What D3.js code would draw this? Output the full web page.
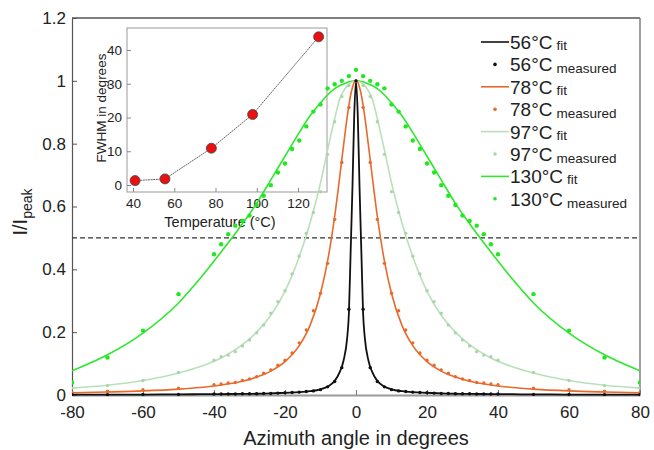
<!DOCTYPE html>
<html><head><meta charset="utf-8">
<script src="https://cdn.jsdelivr.net/npm/d3@7"></script>
<style>body{margin:0;background:#fff}text{font-family:"Liberation Sans",Arial,sans-serif;fill:#222}</style>
</head><body><svg id="c" width="654" height="450"></svg>
<script>
// ---- data ----
const temps = ["56°C","78°C","97°C","130°C"];
const colors = ["#111111","#e8692a","#b9e0b9","#2ee82e"];
const dotColors = ["#111111","#e8692a","#a9d6a9","#22e622"];
const fitAngles = [-80,-70,-60,-50,-44,-38,-32,-28,-24,-20,-16,-13,-10,-8,-6,-4.5,-3.5,-2.5,-2,-1.5,-1,-0.5,0,0.5,1,1.5,2,2.5,3.5,4.5,6,8,10,13,16,20,24,28,32,38,44,50,60,70,80];
const fit56 = [0.001,0.001,0.0015,0.002,0.0025,0.003,0.0035,0.004,0.005,0.007,0.009,0.012,0.018,0.027,0.045,0.075,0.11,0.18,0.26,0.46,0.66,0.89,1,0.89,0.66,0.46,0.26,0.18,0.11,0.075,0.045,0.027,0.018,0.012,0.009,0.007,0.005,0.004,0.0035,0.003,0.0025,0.002,0.0015,0.001,0.001];
const fit78 = [0.007,0.0096,0.013,0.0187,0.024,0.032,0.044,0.057,0.076,0.106,0.157,0.22,0.323,0.427,0.569,0.702,0.795,0.884,0.922,0.955,0.979,0.995,1,0.995,0.979,0.955,0.922,0.884,0.795,0.702,0.569,0.427,0.323,0.22,0.157,0.106,0.076,0.057,0.044,0.032,0.024,0.0187,0.013,0.0096,0.007];
const fit97 = [0.022,0.031,0.046,0.07,0.09,0.118,0.16,0.2,0.254,0.33,0.44,0.545,0.675,0.78,0.88,0.945,0.968,0.984,0.99,0.994,0.997,0.999,1,0.999,0.997,0.994,0.99,0.984,0.968,0.945,0.88,0.78,0.675,0.545,0.44,0.33,0.254,0.2,0.16,0.118,0.09,0.07,0.046,0.031,0.022];
const fit130 = [0.077,0.128,0.197,0.293,0.37,0.455,0.545,0.61,0.685,0.76,0.835,0.888,0.93,0.955,0.975,0.985,0.99,0.995,0.997,0.998,0.999,1,1,1,0.999,0.998,0.997,0.995,0.99,0.985,0.975,0.955,0.93,0.888,0.835,0.76,0.685,0.61,0.545,0.455,0.37,0.293,0.197,0.128,0.077];
const measAngles = [-80,-70,-60,-50,-40,-38,-36,-34,-32,-30,-28,-26,-24,-22,-20,-18,-16,-14,-12,-10,-8,-6,-4,-2,0,2,4,6,8,10,12,14,16,18,20,22,24,26,28,30,32,34,36,38,40,50,60,70,80];
const meas56 = [0.001,0.001,0.002,0.002,0.003,0.003,0.003,0.003,0.004,0.004,0.004,0.005,0.005,0.006,0.007,0.008,0.009,0.011,0.013,0.017,0.026,0.043,0.087,0.273,1,0.273,0.087,0.043,0.026,0.017,0.013,0.011,0.009,0.008,0.007,0.006,0.005,0.005,0.004,0.004,0.004,0.003,0.003,0.003,0.003,0.002,0.002,0.001,0.001];
const meas78 = [0.008,0.012,0.017,0.022,0.033,0.035,0.038,0.04,0.046,0.051,0.058,0.069,0.08,0.095,0.111,0.134,0.166,0.207,0.268,0.324,0.419,0.559,0.74,0.915,1,0.915,0.74,0.559,0.419,0.324,0.268,0.207,0.166,0.134,0.111,0.095,0.08,0.069,0.058,0.051,0.046,0.04,0.038,0.035,0.033,0.022,0.017,0.012,0.008];
const meas97 = [0.022,0.03,0.046,0.072,0.111,0.122,0.127,0.138,0.156,0.175,0.198,0.223,0.26,0.297,0.332,0.385,0.442,0.515,0.581,0.647,0.766,0.87,0.95,0.985,1,0.985,0.95,0.87,0.766,0.647,0.581,0.515,0.442,0.385,0.332,0.297,0.26,0.223,0.198,0.175,0.156,0.138,0.127,0.122,0.111,0.072,0.046,0.03,0.022];
const meas130 = [0.04,0.119,0.205,0.321,0.448,0.48,0.512,0.539,0.554,0.571,0.605,0.634,0.668,0.708,0.737,0.783,0.81,0.855,0.902,0.925,0.976,0.989,1.0,1.015,1.035,1.015,1.0,0.989,0.976,0.925,0.902,0.855,0.81,0.783,0.737,0.708,0.668,0.634,0.605,0.571,0.554,0.539,0.512,0.48,0.448,0.321,0.205,0.119,0.04];
const xTicks = [-80,-60,-40,-20,0,20,40,60,80];
const yTicks = [0,0.2,0.4,0.6,0.8,1,1.2];
const insetTemp = [41,55.5,78,98,130];
const insetFWHM = [1.3,1.8,10.9,20.9,43.9];
const insetXTicks = [40,60,80,100,120];
const insetYTicks = [0,10,20,30,40];

// ---- layout ----
const svg = d3.select("#c");
const x = d3.scaleLinear().domain([-80,80]).range([72,640]);
const y = d3.scaleLinear().domain([0,1.2]).range([395,18]);

svg.append("defs").append("clipPath").attr("id","clip")
  .append("rect").attr("x",72).attr("y",18).attr("width",568).attr("height",378);

// frame top/right
svg.append("line").attr("x1",72).attr("x2",640).attr("y1",18).attr("y2",18).attr("stroke","#555").attr("stroke-width",1.6);
svg.append("line").attr("x1",640).attr("x2",640).attr("y1",18).attr("y2",395).attr("stroke","#777").attr("stroke-width",1.4);

// axes
const gx = svg.append("g").attr("transform","translate(0,395)")
  .call(d3.axisBottom(x).tickValues(xTicks).tickFormat(d=>String(d)).tickSizeInner(-5).tickSizeOuter(0).tickPadding(11));
gx.select(".domain").attr("stroke","#999").attr("stroke-width",2);
gx.selectAll(".tick line").attr("stroke","#777");
gx.selectAll("text").style("font-size","17px").attr("fill","#222");

const gy = svg.append("g").attr("transform","translate(72,0)")
  .call(d3.axisLeft(y).tickValues(yTicks).tickFormat(d3.format("~g")).tickSizeInner(-5).tickSizeOuter(0).tickPadding(6));
gy.select(".domain").attr("stroke","#555").attr("stroke-width",1.2);
gy.selectAll(".tick line").attr("stroke","#555");
gy.selectAll("text").style("font-size","17px").attr("fill","#222");

// axis titles
svg.append("text").attr("x",356).attr("y",445).attr("text-anchor","middle").style("font-size","20px").text("Azimuth angle in degrees");
const yl = svg.append("text").attr("transform","translate(27,212) rotate(-90)").attr("text-anchor","middle").style("font-size","20px");
yl.append("tspan").text("I/I");
yl.append("tspan").attr("dy",5).style("font-size","14px").text("peak");

// dashed half max
svg.append("line").attr("x1",x(-80)).attr("x2",x(80)).attr("y1",y(0.5)).attr("y2",y(0.5))
  .attr("stroke","#333").attr("stroke-width",1.2).attr("stroke-dasharray","5,3");

// ---- inset ----
const ix = d3.scaleLinear().domain([40,120]).range([133,298]);
const iy = d3.scaleLinear().domain([0,40]).range([185,50]);
const iL=127, iR=327, iT=28, iB=192;
const ig = svg.append("g");
ig.append("rect").attr("x",iL).attr("y",iT).attr("width",iR-iL).attr("height",iB-iT).attr("fill","none").attr("stroke","#999").attr("stroke-width",1);
const igx = ig.append("g").attr("transform",`translate(0,${iB})`)
  .call(d3.axisBottom(ix).tickValues(insetXTicks).tickSizeInner(-4).tickSizeOuter(0).tickPadding(6));
igx.select(".domain").remove();
igx.selectAll(".tick line").attr("stroke","#888");
igx.selectAll("text").style("font-size","13.5px").attr("fill","#222");
const igy = ig.append("g").attr("transform",`translate(${iL},0)`)
  .call(d3.axisLeft(iy).tickValues(insetYTicks).tickSizeInner(-4).tickSizeOuter(0).tickPadding(5));
igy.select(".domain").remove();
igy.selectAll(".tick line").attr("stroke","#888");
igy.selectAll("text").style("font-size","13.5px").attr("fill","#222");
ig.append("text").attr("x",220).attr("y",227).attr("text-anchor","middle").style("font-size","14.5px").text("Temperature (°C)");
ig.append("text").attr("transform","translate(106,108) rotate(-90)").attr("text-anchor","middle").style("font-size","13.5px").text("FWHM in degrees");
const ipts = insetTemp.map((t,i)=>[t,insetFWHM[i]]);
ig.append("path").datum(ipts).attr("d",d3.line().x(d=>ix(d[0])).y(d=>iy(d[1])))
  .attr("fill","none").attr("stroke","#666").attr("stroke-width",1).attr("stroke-dasharray","2,0.6");
ig.selectAll("circle").data(ipts).join("circle").attr("cx",d=>ix(d[0])).attr("cy",d=>iy(d[1])).attr("r",5)
  .attr("fill","#e81010").attr("stroke","#444").attr("stroke-width",0.8);

// ---- curves ----
const fits = [fit56,fit78,fit97,fit130];
const meas = [meas56,meas78,meas97,meas130];
const line = d3.line().x(d=>x(d[0])).y(d=>y(d[1])).curve(d3.curveMonotoneX);
const plot = svg.append("g").attr("clip-path","url(#clip)");
[3,2,1,0].forEach(k=>{
  const pts = fitAngles.map((a,i)=>[a,fits[k][i]]);
  plot.append("path").datum(pts).attr("d",line).attr("fill","none")
    .attr("stroke",colors[k]).attr("stroke-width",k===0?1.8:1.6);
});
[3,2,1,0].forEach(k=>{
  const pts = measAngles.map((a,i)=>[a,meas[k][i]]);
  plot.append("g").selectAll("circle").data(pts).join("circle")
    .attr("cx",d=>x(d[0])).attr("cy",d=>y(d[1])).attr("r",k===3?2.2:1.7).attr("fill",dotColors[k]);
});

// ---- legend ----
const lg = svg.append("g");
temps.forEach((t,k)=>{
  const cy1 = 42 + k*2*22.4, cy2 = cy1 + 22.4;
  lg.append("line").attr("x1",481).attr("x2",509).attr("y1",cy1).attr("y2",cy1).attr("stroke",colors[k]).attr("stroke-width",1.6);
  lg.append("circle").attr("cx",495).attr("cy",cy2).attr("r",1.8).attr("fill",dotColors[k]);
  const t1 = lg.append("text").attr("x",510).attr("y",cy1+7).style("font-size","19px");
  t1.append("tspan").text(t);
  t1.append("tspan").attr("dx",4).attr("dy",1).style("font-size","13.5px").text("fit");
  const t2 = lg.append("text").attr("x",510).attr("y",cy2+7).style("font-size","19px");
  t2.append("tspan").text(t);
  t2.append("tspan").attr("dx",4).attr("dy",2).style("font-size","13.5px").text("measured");
});
</script></body></html>
